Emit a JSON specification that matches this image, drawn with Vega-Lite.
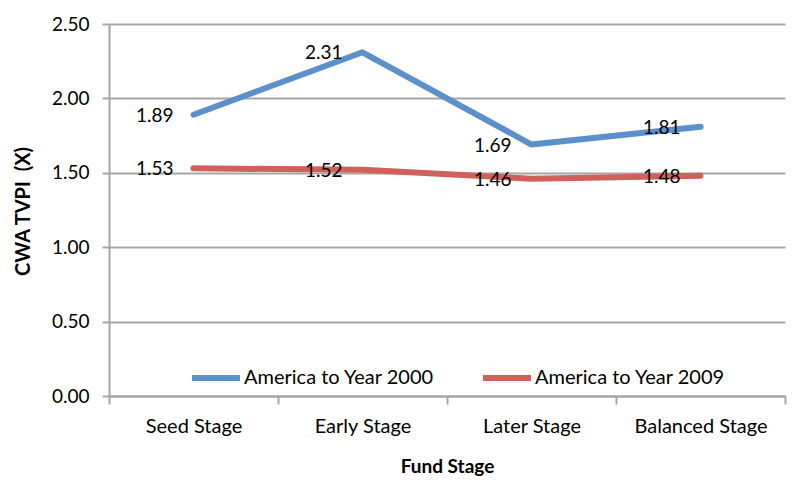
{
  "$schema": "https://vega.github.io/schema/vega-lite/v6.json",
  "width": 676,
  "height": 372,
  "autosize": "none",
  "padding": {"left": 109, "top": 24, "right": 20, "bottom": 92},
  "background": "white",
  "config": {
    "font": "Lato",
    "view": {"stroke": null},
    "axis": {"labelFont": "Lato", "titleFont": "Lato", "labelColor": "#000", "titleColor": "#000"}
  },
  "data": {
    "values": [
      {"stage": "Seed Stage", "series": "America to Year 2000", "tvpi": 1.89},
      {"stage": "Early Stage", "series": "America to Year 2000", "tvpi": 2.31},
      {"stage": "Later Stage", "series": "America to Year 2000", "tvpi": 1.69},
      {"stage": "Balanced Stage", "series": "America to Year 2000", "tvpi": 1.81},
      {"stage": "Seed Stage", "series": "America to Year 2009", "tvpi": 1.53},
      {"stage": "Early Stage", "series": "America to Year 2009", "tvpi": 1.52},
      {"stage": "Later Stage", "series": "America to Year 2009", "tvpi": 1.46},
      {"stage": "Balanced Stage", "series": "America to Year 2009", "tvpi": 1.48}
    ]
  },
  "encoding": {
    "x": {
      "field": "stage",
      "type": "nominal",
      "sort": ["Seed Stage", "Early Stage", "Later Stage", "Balanced Stage"],
      "scale": {"type": "band", "paddingInner": 0, "paddingOuter": 0},
      "axis": {
        "title": "Fund Stage",
        "titleFontSize": 19,
        "titleFontWeight": "bold",
        "titleY": 70,
        "titleBaseline": "middle",
        "labelFontSize": 20,
        "labelAngle": 0,
        "labelPadding": 12,
        "tickBand": "extent",
        "tickSize": 8,
        "tickColor": "#A6A6A6",
        "tickWidth": 2,
        "domainColor": "#A6A6A6",
        "domainWidth": 2,
        "grid": false
      }
    },
    "y": {
      "field": "tvpi",
      "type": "quantitative",
      "scale": {"domain": [0, 2.5], "nice": false},
      "axis": {
        "title": "CWA TVPI \u00a0(X)",
        "titleFontSize": 20,
        "titleFontWeight": "bold",
        "titleX": -86,
        "titleY": 187,
        "titleAngle": -90,
        "titleAlign": "center",
        "titleBaseline": "middle",
        "values": [0, 0.5, 1, 1.5, 2, 2.5],
        "format": ".2f",
        "labelFontSize": 19,
        "labelPadding": 13,
        "tickSize": 7,
        "tickColor": "#A6A6A6",
        "tickWidth": 2,
        "domainColor": "#A6A6A6",
        "domainWidth": 2,
        "grid": true,
        "gridColor": "#A6A6A6",
        "gridWidth": 2
      }
    }
  },
  "layer": [
    {
      "mark": {"type": "line", "strokeWidth": 6, "strokeCap": "round", "strokeJoin": "round"},
      "encoding": {
        "color": {
          "field": "series",
          "type": "nominal",
          "scale": {"domain": ["America to Year 2000", "America to Year 2009"], "range": ["#5B90CB", "#CF615A"]},
          "legend": {
            "title": null,
            "orient": "none",
            "direction": "horizontal",
            "legendX": 80,
            "legendY": 327,
            "symbolType": "stroke",
            "symbolSize": 2304,
            "symbolStrokeWidth": 6,
            "labelFontSize": 20,
            "labelFont": "Lato",
            "labelColor": "#000",
            "labelOffset": 1,
            "labelLimit": 400,
            "columnPadding": 36,
            "padding": 0
          }
        }
      }
    },
    {
      "mark": {"type": "text", "align": "right", "baseline": "middle", "dx": -20, "dy": 1, "fontSize": 19, "font": "Lato", "color": "#000"},
      "encoding": {
        "text": {"field": "tvpi", "type": "quantitative", "format": ".2f"}
      }
    }
  ]
}
